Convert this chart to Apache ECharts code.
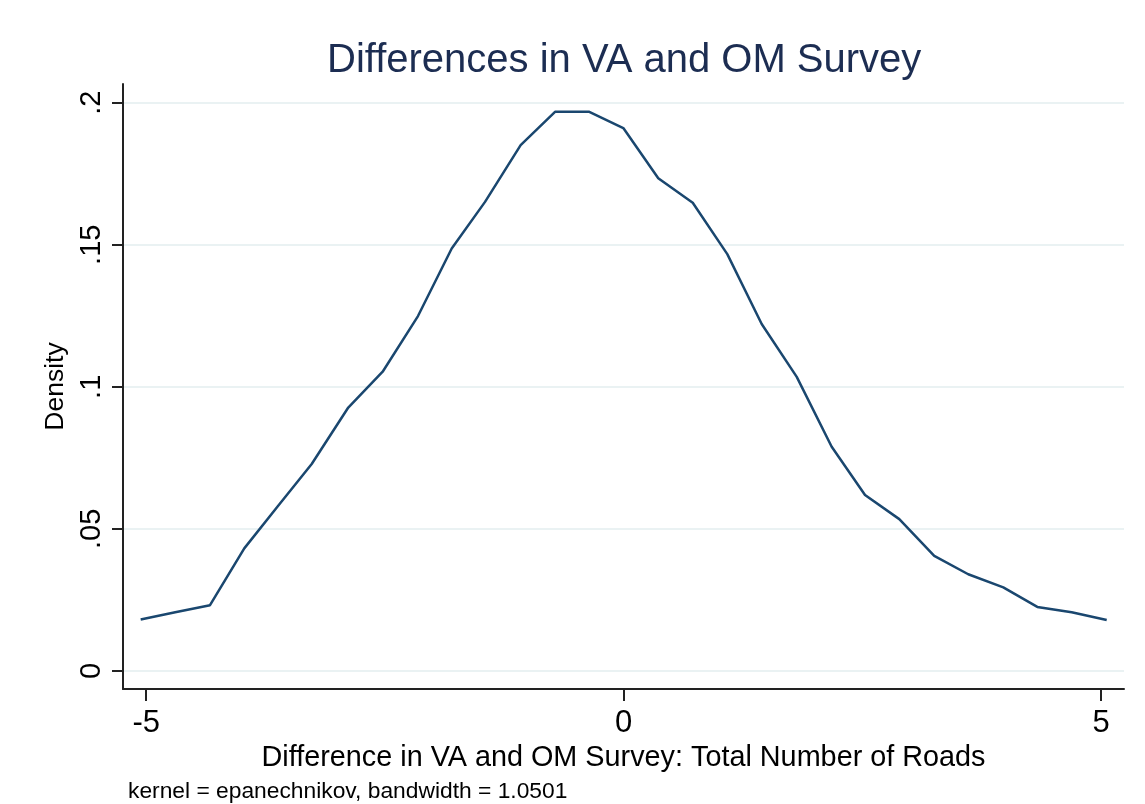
<!DOCTYPE html>
<html>
<head>
<meta charset="utf-8">
<script src="https://cdn.jsdelivr.net/npm/echarts@6/dist/echarts.min.js"></script>
<style>html,body{margin:0;padding:0;background:#fff}#c{width:1145px;height:804px}</style>
</head>
<body>
<div id="c"></div>
<script>
// Evaluation points (difference in total number of roads)
const xValues = [-5.058, -4.696, -4.332, -3.973, -3.620, -3.267, -2.884, -2.524, -2.154, -1.801,
  -1.452, -1.079, -0.719, -0.360, -0.004, 0.362, 0.723, 1.085, 1.445, 1.812,
  2.178, 2.527, 2.886, 3.252, 3.608, 3.975, 4.331, 4.691, 5.058];
// Kernel density estimates
const densityValues = [0.0181, 0.0206, 0.0231, 0.0431, 0.0580, 0.0728, 0.0927, 0.1053, 0.1249, 0.1487,
  0.1651, 0.1851, 0.1968, 0.1968, 0.1911, 0.1734, 0.1648, 0.1467, 0.1221, 0.1035,
  0.0789, 0.0619, 0.0534, 0.0405, 0.0340, 0.0294, 0.0225, 0.0206, 0.0179];
const xTicks = [-5, 0, 5];
const yTicks = [0, 0.05, 0.1, 0.15, 0.2];

const FONT = 'Liberation Sans, Arial, sans-serif';
const chart = echarts.init(document.getElementById('c'), null, {renderer: 'canvas'});
const data = xValues.map((x, i) => [x, densityValues[i]]);
const fmtY = v => v === 0 ? '0' : String(+v.toFixed(2)).replace(/^0/, '');

chart.setOption({
  animation: false,
  backgroundColor: '#ffffff',
  title: {
    text: 'Differences in VA and OM Survey',
    left: 322, top: 36,
    textStyle: {fontFamily: FONT, fontSize: 40, fontWeight: 'normal', color: '#1c2d52'}
  },
  grid: {left: 123, right: 21, top: 84, bottom: 115, containLabel: false},
  xAxis: {
    type: 'value', min: -5.243, max: 5.239,
    name: 'Difference in VA and OM Survey: Total Number of Roads',
    nameLocation: 'middle', nameGap: 48,
    nameTextStyle: {fontFamily: FONT, fontSize: 28.8, color: '#000'},
    axisLine: {onZero: false, lineStyle: {color: '#222', width: 2}},
    axisTick: {show: true, length: 12, customValues: xTicks, lineStyle: {color: '#222', width: 2}},
    axisLabel: {customValues: xTicks, margin: 19, fontFamily: FONT, fontSize: 31, color: '#000',
      formatter: v => String(v)},
    splitLine: {show: false}
  },
  yAxis: {
    type: 'value', min: -0.0064, max: 0.2066,
    name: 'Density', nameLocation: 'middle', nameGap: 35,
    nameTextStyle: {fontFamily: FONT, fontSize: 26.5, color: '#000'},
    axisLine: {onZero: false, show: true, lineStyle: {color: '#222', width: 2}},
    axisTick: {show: true, length: 11, customValues: yTicks, lineStyle: {color: '#222', width: 2}},
    axisLabel: {customValues: yTicks, rotate: 90, margin: 17, fontFamily: FONT, fontSize: 29, color: '#000',
      formatter: fmtY},
    splitLine: {show: true, lineStyle: {color: '#eaf2f3', width: 2}}
  },
  graphic: [{
    type: 'text', left: 128, top: 780,
    style: {text: 'kernel = epanechnikov, bandwidth = 1.0501', fontFamily: FONT, fontSize: 22.8, fill: '#000'}
  }],
  series: [{
    type: 'line', data: data, showSymbol: false, symbol: 'none', smooth: false,
    lineStyle: {color: '#1a476f', width: 2.5}
  }]
});
</script>
</body>
</html>
